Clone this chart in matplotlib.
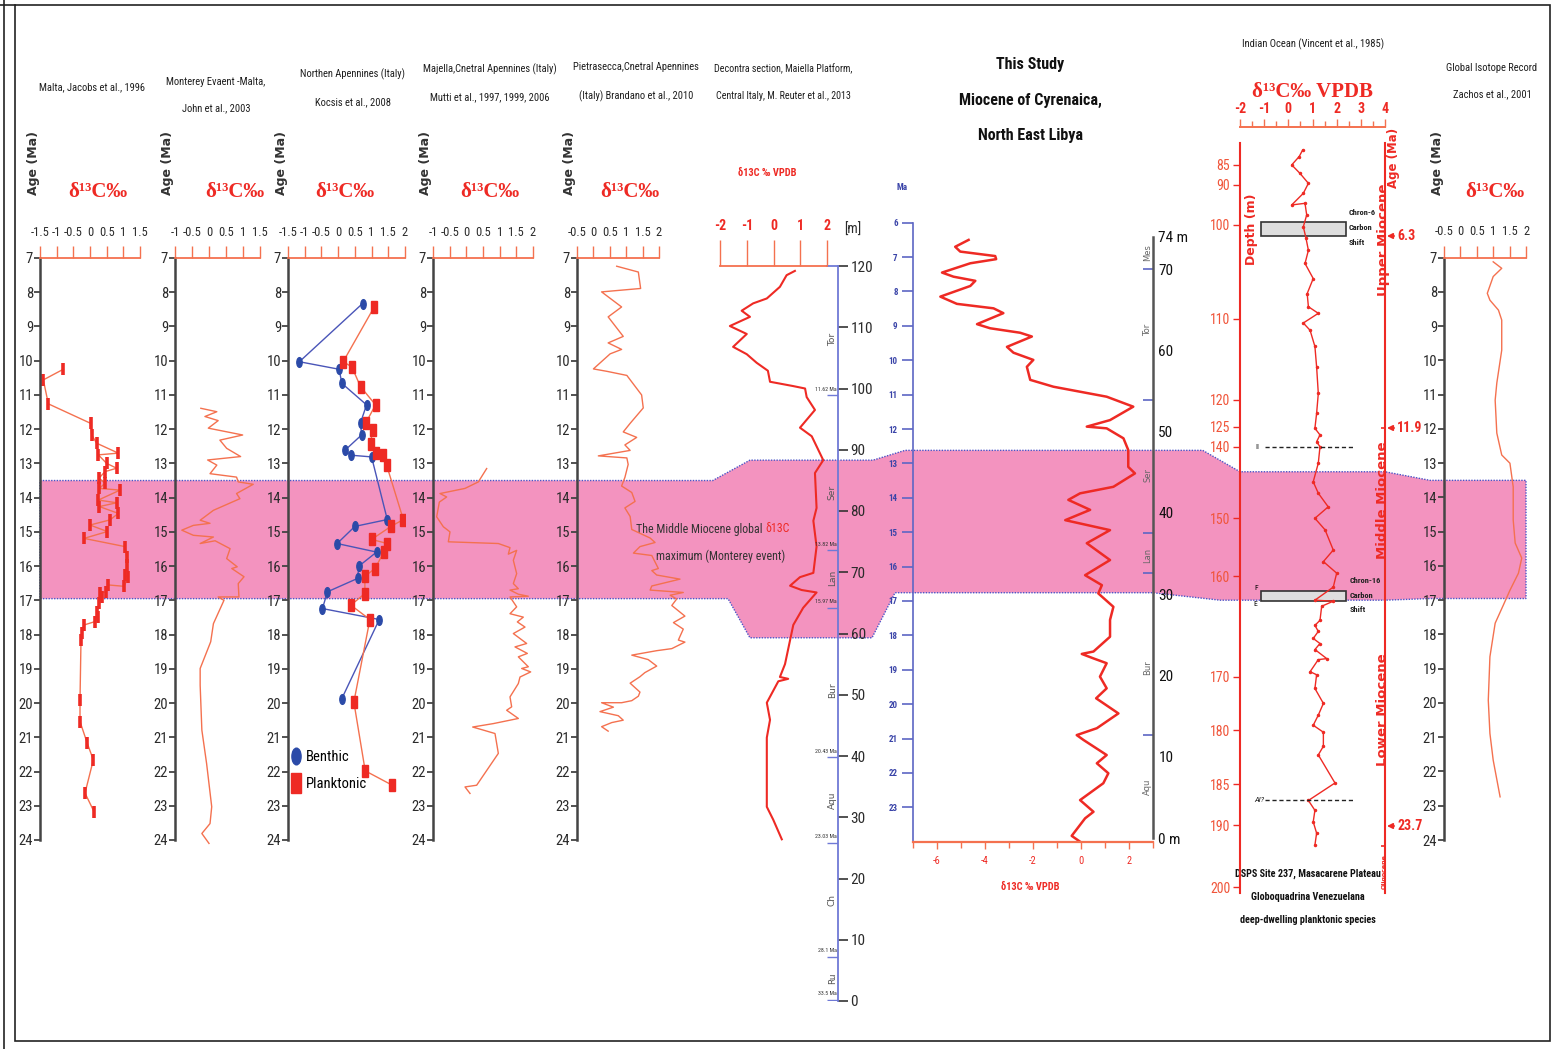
import numpy as np
import matplotlib
matplotlib.use('Agg')
import matplotlib.pyplot as plt
from matplotlib import font_manager
from matplotlib.lines import Line2D
from matplotlib.markers import MarkerStyle
from matplotlib.patches import Polygon, Rectangle
from matplotlib.transforms import Affine2D
from matplotlib.ticker import FuncFormatter

# ---- data -------------------------------------------------------------
AGE_TICKS = list(range(7, 25))

# Malta, Jacobs et al. 1996
jac_age = [10.25, 10.56, 11.26, 11.83, 12.17, 12.41, 12.70, 12.75, 13.00, 13.14, 13.24, 13.43,
           13.58, 13.73, 13.78, 14.07, 14.15, 14.26, 14.46, 14.65, 14.80, 14.99, 15.19, 15.43,
           15.72, 15.97, 16.26, 16.33, 16.59, 16.55, 16.75, 16.79, 16.89, 17.09, 17.33, 17.48,
           17.62, 17.72, 17.96, 18.16, 19.91, 20.54, 21.18, 21.66, 22.63, 23.17]
jac_d13c = [-0.80, -1.40, -1.25, 0.02, 0.05, 0.20, 0.85, 0.25, 0.50, 0.80, 0.45, 0.27,
            0.45, 0.28, 0.90, 0.25, 0.80, 0.28, 0.85, 0.60, 0.00, 0.52, -0.18, 1.05,
            1.10, 1.12, 1.05, 1.15, 1.02, 0.55, 0.48, 0.30, 0.35, 0.28, 0.20, 0.23,
            0.15, -0.18, -0.25, -0.27, -0.30, -0.30, -0.08, 0.10, -0.15, 0.12]

# Monterey event, John et al. 2003
mon_age = [11.39, 11.49, 11.63, 11.75, 11.97, 12.17, 12.32, 12.56, 12.80, 12.90, 13.05, 13.30,
           13.40, 13.54, 13.61, 13.88, 14.03, 14.37, 14.66, 14.75, 14.81, 14.95, 15.10, 15.15,
           15.34, 15.26, 15.49, 15.78, 16.02, 16.07, 16.31, 16.51, 16.90, 16.90, 17.00, 17.68,
           18.21, 18.99, 19.48, 20.79, 21.77, 23.03, 23.52, 23.81, 24.10]
mon_d13c = [-0.24, 0.23, -0.12, 0.27, -0.02, 0.99, 0.32, 0.52, 0.93, -0.04, 0.23, 0.03,
            0.81, 0.86, 1.30, 0.81, 0.91, 0.13, -0.26, 0.03, -0.46, -0.80, -0.46, 0.13,
            -0.26, 0.18, 0.62, 0.52, 0.83, 0.67, 1.03, 0.86, 0.88, 0.27, 0.44, 0.13,
            0.05, -0.26, -0.26, -0.21, -0.07, 0.08, 0.03, -0.21, 0.00]

# Northern Apennines, Kocsis et al. 2008
ben_age = [8.33, 10.03, 10.25, 10.66, 11.29, 11.81, 12.17, 12.61, 12.76, 12.81, 14.64, 14.84,
           15.34, 15.59, 16.00, 16.36, 16.75, 17.24, 17.56, 19.87]
ben_d13c = [0.73, -1.16, 0.03, 0.11, 0.85, 0.67, 0.70, 0.21, 0.38, 1.00, 1.47, 0.50,
            -0.03, 1.15, 0.62, 0.58, -0.32, -0.47, 1.23, 0.11]
pla_age = [8.43, 10.03, 10.18, 10.76, 11.29, 11.81, 12.03, 12.42, 12.71, 12.76, 13.05, 14.64,
           14.84, 15.22, 15.34, 15.59, 16.07, 16.30, 16.80, 17.14, 17.56, 19.97, 21.98, 22.40]
pla_d13c = [1.08, 0.15, 0.41, 0.67, 1.12, 0.83, 1.03, 0.97, 1.12, 1.35, 1.45, 1.95,
            1.58, 1.00, 1.47, 1.37, 1.10, 0.80, 0.80, 0.38, 0.95, 0.47, 0.81, 1.62]

# Majella, Mutti et al.
maj_age = [13.15, 13.54, 13.73, 13.88, 13.98, 14.13, 14.56, 14.85, 15.00, 15.29, 15.34, 15.46,
           15.65, 15.54, 15.83, 16.22, 16.51, 16.66, 16.70, 16.82, 16.88, 16.90, 17.19, 17.39,
           17.49, 17.63, 17.78, 17.97, 18.26, 18.36, 18.55, 18.65, 18.94, 18.99, 19.09, 19.24,
           19.43, 19.82, 20.11, 20.21, 20.45, 20.60, 20.70, 20.79, 20.89, 21.47, 22.40, 22.45, 22.64]
maj_d13c = [0.61, 0.36, -0.04, -0.79, -0.59, -0.81, -0.89, -0.69, -0.49, -0.54, 0.96, 1.31,
            1.26, 1.51, 1.41, 1.51, 1.41, 1.56, 1.31, 1.56, 1.86, 1.31, 1.51, 1.31,
            1.71, 1.53, 1.76, 1.41, 1.81, 1.46, 1.83, 1.56, 1.86, 1.66, 1.93, 1.61,
            1.56, 1.31, 1.36, 1.21, 1.56, 0.81, 0.19, 0.51, 0.86, 0.96, 0.31, -0.04, 0.11]

# Pietrasecca, Brandano et al. 2010
pie_age = [7.24, 7.41, 7.89, 7.99, 8.43, 8.72, 9.29, 9.48, 9.67, 9.80, 10.24, 10.31, 10.43,
           11.00, 11.38, 11.83, 12.08, 12.24, 12.46, 12.62, 12.78, 12.84, 13.03, 13.41, 13.66,
           13.85, 14.11, 14.30, 14.55, 14.93, 15.18, 15.31, 15.43, 15.62, 15.69, 16.07, 16.13,
           16.26, 16.38, 16.58, 16.70, 16.77, 16.85, 16.96, 17.15, 17.46, 17.65, 17.84, 18.16,
           18.22, 18.41, 18.47, 18.54, 18.60, 18.73, 18.92, 19.11, 19.23, 19.42, 19.68, 19.80,
           19.93, 19.99, 19.99, 20.12, 20.25, 20.37, 20.50, 20.57, 20.69, 20.82]
pie_d13c = [0.71, 1.37, 1.44, 0.25, 0.86, 0.45, 0.91, 0.45, 0.86, 0.51, 0.00, 0.41, 1.02,
            1.47, 1.52, 1.12, 0.91, 1.32, 0.96, 1.12, 0.15, 1.02, 1.06, 0.96, 0.86,
            1.17, 1.27, 0.96, 1.12, 1.17, 1.73, 1.88, 1.42, 1.22, 1.78, 1.98, 1.78,
            1.93, 2.64, 1.78, 1.73, 2.74, 2.34, 2.54, 2.39, 2.79, 2.44, 2.74, 2.59,
            2.79, 2.39, 1.93, 1.52, 1.17, 1.67, 1.93, 1.57, 1.42, 1.12, 1.42, 1.37,
            1.17, 0.86, 0.25, 0.61, 0.20, 0.76, 0.91, 0.56, 0.25, 0.45]

# Decontra section, Reuter et al. 2013 (metres)
dec_m = [119.2, 118.5, 116.6, 114.7, 113.9, 112.7, 111.7, 110.2, 108.9, 106.8, 105.6, 104.2,
         102.9, 101.1, 100.4, 100.0, 98.6, 96.5, 93.6, 92.2, 88.3, 86.2, 80.5, 78.4, 74.2,
         69.9, 69.2, 67.8, 67.1, 66.7, 64.2, 61.4, 55.0, 52.9, 52.6, 52.2, 48.7, 45.9, 43.0,
         31.7, 29.6, 26.4]
dec_d13c = [0.80, 0.49, 0.24, -0.25, -0.76, -1.19, -0.88, -1.63, -1.00, -1.51, -1.00, -0.63,
            -0.21, -0.13, 0.73, 1.18, 1.24, 1.55, 0.99, 1.43, 1.86, 1.55, 1.61, 1.49, 1.61,
            1.49, 0.99, 0.62, 1.05, 1.61, 1.11, 0.74, 0.43, 0.24, 0.55, 0.18, -0.25, -0.13, -0.25,
            -0.25, -0.01, 0.31]
dec_stage_m = [108.0, 83.0, 69.1, 50.8, 32.7, 16.5, 3.8]
dec_stage = ['Tor', 'Ser', 'Lan', 'Bur', 'Aqu', 'Ch', 'Ru']
dec_mark_m = [98.9, 73.6, 64.2, 39.8, 25.8, 7.2, 0.2]
dec_mark = ['11.62 Ma', '13.82 Ma', '15.97 Ma', '20.43 Ma', '23.03 Ma', '28.1 Ma', '33.5 Ma']

# This study, Miocene of Cyrenaica
stu_age = [6.50, 6.70, 6.84, 6.97, 7.06, 7.18, 7.45, 7.57, 7.69, 7.84, 8.15, 8.36, 8.49, 8.63,
           8.95, 9.07, 9.20, 9.31, 9.61, 9.78, 9.99, 10.19, 10.57, 10.77, 11.06, 11.35, 11.74,
           11.93, 11.98, 12.27, 12.61, 13.10, 13.29, 13.68, 13.87, 14.06, 14.35, 14.65, 14.94,
           15.32, 15.81, 16.25, 16.54, 16.78, 17.17, 17.55, 18.04, 18.47, 18.54, 18.67, 18.81,
           19.20, 19.54, 19.83, 20.27, 20.70, 20.90, 21.04, 21.48, 21.72, 22.01, 22.30, 22.79,
           23.13, 23.32, 23.83, 24.00]
stu_d13c = [-4.68, -5.24, -5.03, -3.57, -3.53, -4.61, -5.79, -5.31, -4.40, -4.61, -5.86, -5.17,
            -3.64, -3.23, -4.33, -3.78, -2.53, -2.04, -3.08, -2.81, -1.98, -2.25, -2.11, -1.14,
            1.08, 2.19, 1.22, 0.25, 1.08, 1.78, 1.98, 1.98, 2.26, 1.36, -0.03, -0.52, 0.39,
            -0.65, 1.22, 0.25, 1.22, 0.18, 0.88, 0.73, 1.36, 1.22, 1.22, 0.53, 0.04, 0.53,
            1.08, 0.80, 1.08, 0.64, 1.57, 0.67, -0.17, 0.11, 1.08, 0.67, 1.15, 0.94, -0.03,
            0.53, 0.18, -0.38, -0.03]
stu_m_ticks = [0, 10, 20, 30, 40, 50, 60, 70, 74]
stu_m_labels = ['0 m', '10', '20', '30', '40', '50', '60', '70', '74 m']
stu_bound_m = [70.0, 53.9, 37.5, 32.6, 12.7]
stu_stage_m = [72.0, 62.5, 44.6, 34.8, 21.0, 6.3]
stu_stage = ['Mes', 'Tor', 'Ser', 'Lan', 'Bur', 'Aqu']

# Indian Ocean, DSDP site 237 (Vincent et al. 1985)
ind_depth = [81.3, 82.9, 85.0, 87.1, 89.6, 92.1, 95.0, 94.6, 97.5, 100.2, 101.4, 102.7, 104.1,
             105.7, 107.3, 108.7, 109.4, 110.5, 111.4, 113.4, 115.9, 119.2, 122.5, 126.2, 131.2,
             136.3, 140.0, 142.3, 144.9, 146.5, 148.4, 150.0, 152.0, 155.5, 157.5, 159.5, 161.1,
             162.4, 162.5, 163.0, 164.4, 164.9, 165.5, 166.2, 166.7, 167.3, 168.2, 168.3, 169.5,
             169.8, 172.2, 175.0, 177.2, 179.1, 180.2, 181.5, 182.3, 184.9, 187.0, 188.2, 189.6,
             191.3, 193.2]
ind_d13c = [0.59, 0.45, 0.14, 0.48, 0.83, 0.62, 0.14, 0.69, 0.76, 0.62, 0.73, 0.83, 0.69,
            1.03, 0.78, 0.83, 1.24, 0.62, 0.90, 1.10, 1.17, 1.24, 1.17, 1.10, 1.31,
            1.17, 1.31, 1.24, 1.03, 1.24, 1.65, 1.10, 1.52, 1.86, 1.45, 2.00, 1.86,
            1.10, 1.86, 1.38, 1.31, 1.10, 1.24, 1.03, 1.31, 1.10, 1.59, 1.24, 0.90,
            1.17, 1.10, 1.45, 1.24, 1.03, 1.45, 1.45, 1.24, 1.93, 0.83, 1.10, 1.03,
            1.17, 1.10]
ind_depth_ticks = [85, 90, 100, 110, 120, 125, 140, 150, 160, 170, 180, 185, 190, 200]
chron_boxes = [(99.3, 101.2), (161.5, 162.5)]
ind_levels = [140.0, 187.0]
ind_age_marks = [(236, '6.3'), (428, '11.9'), (826, '23.7')]

# Global isotope record, Zachos et al. 2001
glo_age = [7.12, 7.31, 7.55, 8.04, 8.24, 8.53, 8.82, 9.70, 10.66, 11.16, 12.12, 12.76, 13.00,
           13.69, 14.66, 15.33, 15.77, 16.21, 16.71, 17.14, 17.67, 18.65, 19.92, 20.89, 21.67,
           22.74]
glo_d13c = [1.00, 1.26, 1.00, 0.82, 0.90, 1.16, 1.26, 1.26, 1.11, 1.06, 1.11, 1.26, 1.51,
            1.61, 1.61, 1.67, 1.87, 1.77, 1.51, 1.31, 1.06, 0.90, 0.85, 0.90, 1.00, 1.21]

# Middle Miocene carbon maximum in each record's own units
band_age = (13.5, 16.95)
band_dec_m = (88.3, 59.3)
band_stu_age = (12.62, 16.76)
band_ind_depth = (143.5, 162.4)

# ---- style ------------------------------------------------------------
W, H = 1553, 1049
RED = '#ee2a24'
SALMON = '#f4714f'
BLUE = '#4a55b8'
PINK = '#f393bf'
TEXT = '#2b2b2b'
AXGRAY = '#444444'


def pick_family(cands, default):
    names = {f.name for f in font_manager.fontManager.ttflist}
    for c in cands:
        if c in names:
            return c
    return default


NARROW = pick_family(['Liberation Sans Narrow', 'Roboto Condensed', 'Open Sans Condensed'],
                     'Liberation Sans')
SERIF = pick_family(['Liberation Serif'], 'DejaVu Serif')
plt.rcParams['font.family'] = [NARROW, 'DejaVu Sans']
plt.rcParams['axes.unicode_minus'] = False

fig = plt.figure(figsize=(W / 100, H / 100), dpi=100)
fig.patch.set_facecolor('white')

bg = fig.add_axes([0, 0, 1, 1], zorder=0)
bg.set_xlim(0, W)
bg.set_ylim(H, 0)
bg.axis('off')


def px_axes(x0, y0, x1, y1):
    ax = fig.add_axes([x0 / W, 1 - y1 / H, (x1 - x0) / W, (y1 - y0) / H], zorder=1)
    ax.set_facecolor('none')
    return ax


def age_panel(x0, x1, xlim, y0=258, y1=840):
    ax = px_axes(x0, y0, x1, y1)
    ax.set_xlim(*xlim)
    ax.set_ylim(24, 7)
    ax.xaxis.tick_top()
    ax.set_xticks(np.arange(xlim[0], xlim[1] + 0.01, 0.5))
    ax.xaxis.set_major_formatter(FuncFormatter(lambda v, p: f'{v:g}'))
    ax.set_yticks(AGE_TICKS)
    ax.spines[['right', 'bottom']].set_visible(False)
    ax.spines['top'].set_color(SALMON)
    ax.spines['top'].set_linewidth(1.3)
    ax.spines['left'].set_color(AXGRAY)
    ax.spines['left'].set_linewidth(1.8)
    ax.tick_params(axis='x', direction='out', length=9, width=1, color=SALMON, pad=5,
                   labelsize=9, labelcolor=TEXT)
    ax.tick_params(axis='y', direction='out', length=4, width=1.3, color=AXGRAY, pad=1,
                   labelsize=10.5, labelcolor=TEXT)
    bg.text(x0 - 7, 163, 'Age (Ma)', rotation=90, ha='center', va='center', fontsize=9,
            fontweight='bold', color='#333', family='DejaVu Sans')
    return ax


def d13c_head(x, y, size=15, extra=''):
    bg.text(x, y, 'δ¹³C‰' + extra, ha='center', va='center', fontsize=size, color=RED,
            fontweight='bold', family=[SERIF, 'DejaVu Serif'])


# ---- panels 1-5 -------------------------------------------------------
ax1 = age_panel(40, 140, (-1.5, 1.5))
ax1.plot(jac_d13c, jac_age, color=SALMON, lw=1, marker='|', ms=8, mew=2.6, mec=RED, clip_on=False)

ax2 = age_panel(175, 260, (-1, 1.5))
ax2.plot(mon_d13c, mon_age, color=SALMON, lw=1, clip_on=False)

ax3 = age_panel(288, 405, (-1.5, 2))
ell = MarkerStyle('o', transform=Affine2D().scale(0.55, 1.0))
bar = MarkerStyle('s', transform=Affine2D().scale(0.5, 1.0))
ax3.plot(ben_d13c, ben_age, color=BLUE, lw=1, marker=ell, ms=7, mfc='#2b4aa8', mec='#2b4aa8')
ax3.plot(pla_d13c, pla_age, color=SALMON, lw=1, marker=bar, ms=9, mfc=RED, mec=RED)
ax3.legend([Line2D([], [], ls='none', marker=ell, ms=12, color='#2b4aa8'),
            Line2D([], [], ls='none', marker=bar, ms=14, color=RED)],
           ['Benthic', 'Planktonic'], loc='upper left', bbox_to_anchor=(-0.01, 0.165),
           frameon=False, handlelength=0.5, handletextpad=0.4, labelspacing=0.9,
           fontsize=10.5, borderaxespad=0)

ax4 = age_panel(433, 533, (-1, 2))
ax4.plot(maj_d13c, maj_age, color=SALMON, lw=1, clip_on=False)

ax5 = age_panel(577, 659, (-0.5, 2))
ax5.plot(pie_d13c, pie_age, color=SALMON, lw=1, clip_on=False)

# ---- Decontra section -------------------------------------------------
ax6 = px_axes(720, 266, 838, 1001)
ax6.set_xlim(-2, 2 + 11 / 26.75)
ax6.set_ylim(0, 120)
ax6.spines[['left', 'bottom']].set_visible(False)
ax6.spines['top'].set_bounds(-2, 2)
ax6.spines['top'].set_color(SALMON)
ax6.spines['top'].set_linewidth(1.3)
ax6.spines['right'].set_color('#6f79d6')
ax6.spines['right'].set_linewidth(1.3)
ax6.xaxis.tick_top()
ax6.set_xticks([-2, -1, 0, 1, 2])
ax6.tick_params(axis='x', direction='out', length=19, width=1, color=SALMON, pad=5,
                labelsize=10, labelcolor=RED)
for lab in ax6.get_xticklabels():
    lab.set_fontweight('bold')
ax6.yaxis.tick_right()
ax6.set_yticks(range(0, 121, 10))
ax6.tick_params(axis='y', direction='out', length=7, width=1.2, color='#333', pad=2,
                labelsize=11, labelcolor=TEXT)
ax6.axhline(120, xmin=4 / (4 + 11 / 26.75), xmax=1, color='#6f79d6', lw=1.3, clip_on=False)
ax6.plot(dec_d13c, dec_m, color=RED, lw=1.5)
ax6.hlines(dec_mark_m, 1.99, 2.41, color='#6f79d6', lw=1)
for m, s in zip(dec_mark_m, dec_mark):
    ax6.text(2.36, m + 0.6, s, ha='right', va='bottom', fontsize=4.2, color='#333')
for m, s in zip(dec_stage_m, dec_stage):
    ax6.text(2.2, m, s, rotation=90, ha='center', va='center', fontsize=6.5, color='#555',
             family='DejaVu Sans')

# ---- This study -------------------------------------------------------
ax7 = px_axes(913, 222.7, 1152.7, 841.7)
ax7.set_xlim(-7, 3)
ax7.set_ylim(24, 6)
ax7.spines[['top', 'right']].set_visible(False)
ax7.spines['left'].set_color('#5c66c4')
ax7.spines['left'].set_linewidth(1.2)
ax7.spines['bottom'].set_color(SALMON)
ax7.spines['bottom'].set_linewidth(1.6)
ax7.set_yticks(range(6, 24))
ax7.tick_params(axis='y', direction='out', length=8, width=1.2, color='#5c66c4', pad=3,
                labelsize=6.5, labelcolor='#3a44a8')
for lab in ax7.get_yticklabels():
    lab.set_fontweight('bold')
ax7.set_xticks([-6, -4, -2, 0, 2])
ax7.set_xticks([-7, -5, -3, -1, 1, 3], minor=True)
ax7.tick_params(axis='x', which='major', direction='out', length=5, width=1, color=SALMON,
                pad=5, labelsize=7.5, labelcolor=RED)
ax7.tick_params(axis='x', which='minor', direction='out', length=4, width=1, color=SALMON)
ax7.plot(stu_d13c, stu_age, color=RED, lw=1.8)

ax7b = ax7.twinx()
ax7b.set_zorder(1)
ax7b.set_ylim(-0.455, 75.7)
ax7b.spines[['left', 'top', 'bottom']].set_visible(False)
ax7b.spines['right'].set_color('#555555')
ax7b.spines['right'].set_linewidth(1.8)
ax7b.spines['right'].set_bounds(0, 74)
ax7b.set_yticks(stu_m_ticks)
ax7b.set_yticklabels(stu_m_labels)
ax7b.tick_params(axis='y', length=0, pad=4, labelsize=11, labelcolor='#111')
ax7b.hlines(stu_bound_m, 2.6, 3.0, color='#5c66c4', lw=1.2)
for m, s in zip(stu_stage_m, stu_stage):
    ax7b.text(2.8, m, s, rotation=90, ha='center', va='center', fontsize=6, color='#666',
              family='DejaVu Sans')

# ---- Indian Ocean -----------------------------------------------------
# depth axis of the source plot is stretched unevenly between its labelled depths
ind_tick_px = [165, 185, 225, 319, 400, 426.7, 446.7, 518.3, 576, 676.7, 730, 784, 825, 887.3]
dk = [0] + ind_depth_ticks + [400]
pk = [-175] + ind_tick_px + [2133]

ax8 = px_axes(1240, 127.3, 1385, 893)
ax8.set_yscale('function', functions=(lambda d: np.interp(d, dk, pk),
                                       lambda p: np.interp(p, pk, dk)))
ax8.set_ylim(200.9, 75.6)
ax8.set_xlim(-2, 4)
ax8.spines['bottom'].set_visible(False)
for side in ['left', 'right']:
    ax8.spines[side].set_color(RED)
    ax8.spines[side].set_linewidth(1.5)
    ax8.spines[side].set_bounds(79.5, 200.9)
ax8.spines['top'].set_color(SALMON)
ax8.spines['top'].set_linewidth(1.4)
ax8.xaxis.tick_top()
ax8.set_xticks(range(-2, 5))
ax8.set_xticks(np.arange(-1.5, 4, 1.0), minor=True)
ax8.tick_params(axis='x', which='major', direction='out', length=6, width=1, color=SALMON,
                pad=2, labelsize=10, labelcolor=RED)
ax8.tick_params(axis='x', which='minor', direction='out', length=4, width=1, color=SALMON)
for lab in ax8.get_xticklabels():
    lab.set_fontweight('bold')
ax8.set_yticks(ind_depth_ticks)
ax8.set_yticks([], minor=True)
ax8.yaxis.set_major_formatter(FuncFormatter(lambda v, p: f'{v:g}'))
ax8.tick_params(axis='y', direction='out', length=5, width=1, color=RED, pad=2,
                labelsize=10, labelcolor='#f0553a')
ax8.plot(ind_d13c, ind_depth, color=RED, lw=1, marker='.', ms=3)
for top, bot in chron_boxes:
    ax8.add_patch(Rectangle((-1.14, top), 3.53, bot - top, facecolor='#dedede',
                            edgecolor='#333', lw=1.2, zorder=1))
ax8.hlines(ind_levels, -0.98, 2.66, color='#222', lw=1, linestyles=(0, (3, 2)))
ax8.text(-1.3, ind_levels[0], 'II', ha='center', va='center', fontsize=6, color='#222')
ax8.text(-1.22, ind_levels[1], 'AI?', ha='center', va='center', fontsize=6, color='#222',
         style='italic')
ax8.text(-1.35, chron_boxes[1][0] - 0.3, 'F', ha='center', va='center', fontsize=5.5)
ax8.text(-1.35, chron_boxes[1][1] + 0.3, 'E', ha='center', va='center', fontsize=5.5)
ax8.text(2.5, 100.3, 'Chron-6\nCarbon\nShift', ha='left', va='center', fontsize=6,
         fontweight='bold', linespacing=2.3, color='#222')
ax8.text(2.55, 161.9, 'Chron-16\nCarbon\nShift', ha='left', va='center', fontsize=6,
         fontweight='bold', linespacing=2.3, color='#222')
ax8.text(0.08, 100.5, 'Depth (m)', transform=ax8.get_yaxis_transform(), rotation=90,
         ha='center', va='center', fontsize=9, fontweight='bold', color=RED,
         family='DejaVu Sans')
ax8.hlines([126.0, 193.4], 0.97, 1.0, transform=ax8.get_yaxis_transform(), color=RED, lw=1.2)

# ---- global record ----------------------------------------------------
ax9 = age_panel(1444, 1526, (-0.5, 2), y0=257.7)
ax9.plot(glo_d13c, glo_age, color=SALMON, lw=1)

# ---- Middle Miocene band across all columns ---------------------------
def dx(ax, x):
    return ax.transData.transform((x, ax.get_ylim()[0]))[0]


def dy(ax, y):
    return ax.transData.transform((ax.get_xlim()[0], y))[1]


s0 = dx(ax7, -7)
band = [
    (dx(ax1, -1.5), dy(ax1, band_age[0])),
    (dx(ax6, -2.27), dy(ax1, band_age[0])),
    (dx(ax6, -0.88), dy(ax6, band_dec_m[0])),
    (s0 - 40, dy(ax6, band_dec_m[0])),
    (s0 - 8, dy(ax7, band_stu_age[0])),
    (dx(ax7, 3) + 50, dy(ax7, band_stu_age[0])),
    (dx(ax8, -2), dy(ax8, band_ind_depth[0])),
    (dx(ax8, 4), dy(ax8, band_ind_depth[0])),
    (dx(ax9, -0.5) - 14, dy(ax9, band_age[0])),
    (dx(ax9, 2), dy(ax9, band_age[0])),
    (dx(ax9, 2), dy(ax9, band_age[1])),
    (dx(ax9, -0.5) - 14, dy(ax9, band_age[1])),
    (dx(ax8, 4), dy(ax8, band_ind_depth[1])),
    (dx(ax8, -2) - 20, dy(ax8, band_ind_depth[1])),
    (dx(ax7, 3), dy(ax7, band_stu_age[1])),
    (s0 - 18, dy(ax7, band_stu_age[1])),
    (s0 - 41, dy(ax6, band_dec_m[1])),
    (dx(ax6, -0.88), dy(ax6, band_dec_m[1])),
    (dx(ax6, -1.70), dy(ax1, band_age[1])),
    (dx(ax1, -1.5), dy(ax1, band_age[1])),
]
band = fig.transFigure.inverted().transform(band)
bg.add_patch(Polygon(band, closed=True, transform=fig.transFigure, facecolor=PINK,
                     edgecolor='#4b55c8', lw=1, ls=(0, (1, 1)), zorder=1))

# ---- headings and notes -----------------------------------------------
title_kw = dict(ha='center', va='center', fontsize=7.6, color='#1e1e1e', linespacing=3.1)
bg.text(92, 87, 'Malta, Jacobs et al., 1996', **title_kw)
bg.text(216, 95, 'Monterey Evaent -Malta,\nJohn et al., 2003', **title_kw)
bg.text(353, 88, 'Northen Apennines (Italy)\nKocsis et al., 2008', **title_kw)
bg.text(490, 83, 'Majella,Cnetral Apennines (Italy)\nMutti et al., 1997, 1999, 2006', **title_kw)
bg.text(636, 82, 'Pietrasecca,Cnetral Apennines\n(Italy) Brandano et al., 2010', **title_kw)
bg.text(783, 82, 'Decontra section, Maiella Platform,\nCentral Italy, M. Reuter et al., 2013',
        **dict(title_kw, fontsize=7.2))
bg.text(1313, 44, 'Indian Ocean (Vincent et al., 1985)', **title_kw)
bg.text(1492, 81, 'Global Isotope Record\nZachos et al., 2001', **title_kw)
bg.text(1030, 100, 'This Study\nMiocene of Cyrenaica,\nNorth East Libya', ha='center',
        va='center', fontsize=11.5, fontweight='bold', color='#111', linespacing=2.7)
bg.text(1308, 897, 'DSPS Site 237, Masacarene Plateau\nGloboquadrina Venezuelana\n'
        'deep-dwelling planktonic species', ha='center', va='center', fontsize=7.3,
        fontweight='bold', color='#111', linespacing=2.6)

for x in [98, 235, 345, 490, 630, 1495]:
    d13c_head(x, 192)
d13c_head(1313, 92, extra=' VPDB')
bg.text(767, 173, 'δ13C ‰ VPDB', ha='center', va='center', fontsize=7.5, color=RED,
        fontweight='bold')
bg.text(1030, 887, 'δ13C ‰ VPDB', ha='center', va='center', fontsize=7.5, color=RED,
        fontweight='bold')
bg.text(853, 230, '[m]', ha='center', va='center', fontsize=10, color=TEXT)
bg.text(902, 188, 'Ma', ha='center', va='center', fontsize=6.5, color='#3a44a8',
        fontweight='bold')

bg.text(763, 529, 'The Middle Miocene global', ha='right', va='center', fontsize=8.6,
        color='#333', zorder=3)
bg.text(765, 529, 'δ13C', ha='left', va='center', fontsize=8.6, color=RED, zorder=3)
bg.text(721, 556, 'maximum (Monterey event)', ha='center', va='center', fontsize=8.6,
        color='#333', zorder=3)

side_kw = dict(rotation=90, ha='center', va='center', color=RED, fontweight='bold',
               family='DejaVu Sans', zorder=3)
bg.text(1394, 158, 'Age (Ma)', fontsize=8.5, **side_kw)
bg.text(1383, 240, 'Upper Miocene', fontsize=9.5, **side_kw)
bg.text(1383, 500, 'Middle Miocene', fontsize=9.5, **side_kw)
bg.text(1383, 710, 'Lower Miocene', fontsize=9.5, **side_kw)
bg.text(1384, 872, 'Oligocene', fontsize=4.5, **side_kw)
for yy, s in ind_age_marks:
    bg.annotate(s, xy=(1387, yy), xytext=(1397, yy), ha='left', va='center', fontsize=10,
                color=RED, fontweight='bold',
                arrowprops=dict(arrowstyle='-|>', color=RED, lw=1.2, shrinkA=0, shrinkB=0,
                                mutation_scale=8))

# outer frame
bg.add_patch(Rectangle((15, 5), 1535, 1036, fill=False, edgecolor='#222', lw=1.2))
bg.plot([4, 4], [0, H], color='#222', lw=1.2)
bg.plot([0, 15], [5, 5], color='#222', lw=1.2)

fig.savefig('out.png', dpi=100)
